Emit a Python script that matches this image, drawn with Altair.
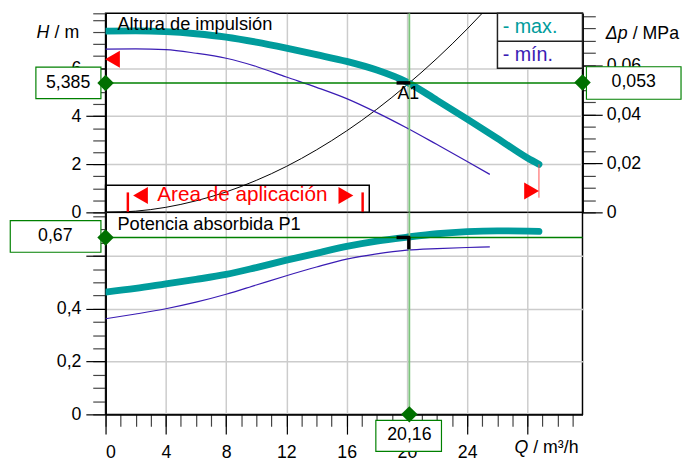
import altair as alt
import pandas as pd

FONT = "Liberation Sans"
TEAL = "#009C9C"
BLUE = "#3A1CB4"
GREEN = "#008000"
LGREEN = "#7CC47C"
RED = "#FF0000"

# ---- axis domains ----
Q_MAX = 31.65
H_TOP = 8.28
DP_TOP = 0.08123
P_TOP = 0.765

# ---- curves ----
q_hmax = [0, 2, 4, 6, 8, 10, 12, 14, 16, 18, 20, 22, 24, 26, 28, 28.76]
h_max = [7.54, 7.55, 7.52, 7.43, 7.29, 7.08, 6.83, 6.56, 6.28, 5.92, 5.42, 4.66, 3.88, 3.08, 2.26, 2.0]
q_hmin = [0, 2, 4, 6, 8, 10, 12, 14, 16, 18, 20, 22, 24, 25.5]
h_min = [6.79, 6.80, 6.77, 6.62, 6.41, 6.07, 5.63, 5.20, 4.73, 4.15, 3.51, 2.82, 2.12, 1.58]
q_sys = [0, 2, 4, 6, 8, 10, 12, 14, 16, 18, 20, 22, 24, 26]
h_sys = [0, 0.05, 0.21, 0.48, 0.85, 1.33, 1.91, 2.60, 3.39, 4.29, 5.30, 6.41, 7.63, 8.96]
q_pmax = [0, 2, 4, 6, 8, 10, 12, 14, 16, 18, 20, 22, 24, 26, 28, 28.76]
p_max = [0.463, 0.477, 0.494, 0.511, 0.530, 0.556, 0.584, 0.610, 0.636, 0.656, 0.671, 0.684, 0.692, 0.695, 0.694, 0.693]
q_pmin = [0, 2, 4, 6, 8, 10, 12, 14, 16, 18, 20, 22, 24, 25.5]
p_min = [0.362, 0.380, 0.400, 0.425, 0.455, 0.490, 0.525, 0.558, 0.588, 0.608, 0.622, 0.628, 0.632, 0.634]

# operating point
Q_OP = 20.16
H_OP = 5.385
DP_OP = 0.053
P_OP = 0.67
op_labels = {"H": "5,385", "DP": "0,053", "P": "0,67", "Q": "20,16"}

# application range markers
area_q = [0, 17.5]
area_h = [0, 1.13]
area_bars_q = [1.48, 17.06]
area_tri = [{"Q": 2.32, "H": 0.70, "s": "triangle-left"}, {"Q": 15.95, "H": 0.70, "s": "triangle-right"}]
limit_tri = [{"Q": 0.46, "H": 6.37, "s": "triangle-left"}, {"Q": 28.27, "H": 0.89, "s": "triangle-right"}]
limit_line = {"Q": 28.76, "H1": 2.0, "H2": 0.61}

# ticks
h_major = [0, 2, 4, 6]
h_minor = [i * 0.5 for i in range(17)] + [8.28]
dp_major = [0, 0.02, 0.04, 0.06]
dp_minor = [round(i * 0.005, 3) for i in range(17)]
p_major = [0, 0.2, 0.4, 0.6]
p_minor = [round(i * 0.05, 2) for i in range(16)]
q_major = [0, 4, 8, 12, 16, 20, 24, 28]
q_minor = list(range(0, 32))

XS = alt.Scale(domain=[0, Q_MAX], nice=False, zero=False)
HS = alt.Scale(domain=[0, H_TOP], nice=False, zero=False)
DS = alt.Scale(domain=[0, DP_TOP], nice=False, zero=False)
PS = alt.Scale(domain=[0, P_TOP], nice=False, zero=False)

W, HT, HB = 484, 202, 205


def X(f, axis=None):
    return alt.X(f"{f}:Q", scale=XS, axis=axis)


def Y(f, scale, axis=None):
    return alt.Y(f"{f}:Q", scale=scale, axis=axis)


def one(**kw):
    return pd.DataFrame({k: [v] for k, v in kw.items()})


op = one(Q=Q_OP, H=H_OP, DP=DP_OP, P=P_OP, Q0=0.0, QR=Q_MAX, H0=0.0, HT=H_TOP, P0=0.0, PT=P_TOP)

LBL = dict(labelFont=FONT, labelFontSize=18, labelColor="black", tickColor="black", tickWidth=1.2,
           domainColor="black", domainWidth=1.5, gridColor="#cccccc", gridWidth=1.5, title=None)
MIN = dict(labels=False, grid=False, tickColor="#444", tickWidth=1.2, domainColor="black",
           domainWidth=1.5, title=None)

# ---------------- axes ----------------
ax_h_major = alt.Axis(orient="left", values=h_major, tickSize=20, labelPadding=5, grid=True, **LBL)
ax_h_minor = alt.Axis(orient="left", values=h_minor, tickSize=13, **MIN)
ax_q_grid = alt.Axis(orient="bottom", values=q_major[1:], grid=True, labels=False, ticks=False,
                     domain=False, gridColor="#cccccc", gridWidth=1.5, title=None)
ax_dp_major = alt.Axis(orient="right", values=dp_major, tickSize=20, labelPadding=4, grid=False,
                       labelExpr="datum.value == 0 ? '0' : replace(format(datum.value, '.2f'), '.', ',')",
                       **LBL)
ax_dp_minor = alt.Axis(orient="right", values=dp_minor, tickSize=13, **MIN)
ax_p_major = alt.Axis(orient="left", values=p_major, tickSize=20, labelPadding=5, grid=True,
                      labelExpr="datum.value > 0.5 ? '' : (datum.value == 0 ? '0' : replace(format(datum.value, '.1f'), '.', ','))",
                      **LBL)
ax_p_minor = alt.Axis(orient="left", values=p_minor, tickSize=13, **MIN)
ax_q_major = alt.Axis(orient="bottom", values=q_major, tickSize=20, labelPadding=10, grid=True,
                      labelExpr="datum.value > 26 ? '' : datum.label", **LBL)
ax_q_minor = alt.Axis(orient="bottom", values=q_minor, tickSize=12, **MIN)

# ---------------- top panel ----------------
df_hmax = pd.DataFrame({"Q": q_hmax, "H": h_max})
df_hmin = pd.DataFrame({"Q": q_hmin, "H": h_min})
df_sys = pd.DataFrame({"Q": q_sys, "H": h_sys})

t_area = alt.Chart(pd.DataFrame({"Q": [area_q[0]], "Q2": [area_q[1]], "H": [area_h[0]], "H2": [area_h[1]]})).mark_rect(
    fillOpacity=0, stroke="black", strokeWidth=1.5).encode(
    x=X("Q"), x2="Q2", y=Y("H", HS), y2="H2")
t_sys = alt.Chart(df_sys).mark_line(color="black", strokeWidth=1, clip=True, interpolate="monotone").encode(
    x=X("Q"), y=Y("H", HS))
t_min = alt.Chart(df_hmin).mark_line(color=BLUE, strokeWidth=1.2, interpolate="monotone").encode(
    x=X("Q"), y=Y("H", HS, ax_h_minor))
t_max = alt.Chart(df_hmax).mark_line(color=TEAL, strokeWidth=7, strokeCap="round", clip=True,
                                     interpolate="monotone").encode(
    x=X("Q", ax_q_grid), y=Y("H", HS, ax_h_major))
t_vline = alt.Chart(op).mark_rule(color=LGREEN, strokeWidth=1.8).encode(
    x=X("Q"), y=Y("H0", HS), y2="HT")
t_hline = alt.Chart(op).mark_rule(color=GREEN, strokeWidth=1.5).encode(
    x=X("Q0"), x2="QR", y=Y("H", HS))
t_redline = alt.Chart(pd.DataFrame([limit_line])).mark_rule(color="#FF5050", strokeWidth=1).encode(
    x=X("Q"), y=Y("H1", HS), y2="H2")
t_redtri = alt.Chart(pd.DataFrame(limit_tri + area_tri)).mark_point(filled=True, color=RED, size=300, opacity=1).encode(
    x=X("Q"), y=Y("H", HS), shape=alt.Shape("s:N", scale=None, legend=None))
t_redbars = alt.Chart(pd.DataFrame({"Q": area_bars_q, "H1": [-0.03, -0.03], "H2": [0.83, 0.83]})).mark_rule(
    color=RED, strokeWidth=2.5).encode(x=X("Q"), y=Y("H1", HS), y2="H2")
t_areatext = alt.Chart(one(Q=9.08, H=0.70, t="Area de aplicación")).mark_text(
    color=RED, font=FONT, fontSize=21, align="center", baseline="middle").encode(
    x=X("Q"), y=Y("H", HS), text="t:N")
t_a1bar = alt.Chart(op).mark_rule(color="black", strokeWidth=3.5, xOffset=-13, x2Offset=1).encode(
    x=X("Q"), x2="Q", y=Y("H", HS))
t_a1 = alt.Chart(one(Q=Q_OP, H=H_OP, t="A1")).mark_text(
    font=FONT, fontSize=18, color="black", dx=-1, dy=11, align="center", baseline="middle").encode(
    x=X("Q"), y=Y("H", HS), text="t:N")
t_boxL = alt.Chart(op).mark_rect(fill="white", stroke=GREEN, strokeWidth=1.2,
                                 xOffset=-70.7, x2Offset=-4.7, yOffset=-16, y2Offset=16).encode(
    x=X("Q0"), x2="Q0", y=Y("H", HS), y2="H")
t_boxLt = alt.Chart(one(Q=0.0, H=H_OP, t=op_labels["H"])).mark_text(
    font=FONT, fontSize=18, color="black", dx=-38, align="center", baseline="middle").encode(
    x=X("Q"), y=Y("H", HS), text="t:N")
t_boxR = alt.Chart(op).mark_rect(fill="white", stroke=GREEN, strokeWidth=1.2,
                                 xOffset=4, x2Offset=100, yOffset=-16, y2Offset=17).encode(
    x=X("QR"), x2="QR", y=Y("DP", DS, ax_dp_minor), y2="DP")
t_boxRt = alt.Chart(one(Q=Q_MAX, DP=DP_OP, t=op_labels["DP"])).mark_text(
    font=FONT, fontSize=18, color="black", dx=52, align="center", baseline="middle").encode(
    x=X("Q"), y=Y("DP", DS), text="t:N")
t_diaL = alt.Chart(op).mark_point(shape="diamond", filled=True, color="#007000", size=280, opacity=1).encode(
    x=X("Q0"), y=Y("H", HS))
t_diaR = alt.Chart(op).mark_point(shape="diamond", filled=True, color="#007000", size=280, opacity=1).encode(
    x=X("QR"), y=Y("DP", DS, ax_dp_major))
t_leg = alt.Chart(one(a=0)).mark_rect(fill="white", stroke="#222", strokeWidth=1.5).encode(
    x=alt.value(397.7), x2=alt.value(W), y=alt.value(0), y2=alt.value(55.7))
t_legdiv = alt.Chart(one(a=0)).mark_rule(color="#222", strokeWidth=1.5).encode(
    x=alt.value(397.7), x2=alt.value(W), y=alt.value(28.3))
t_legmax = alt.Chart(one(t="- max.")).mark_text(font=FONT, fontSize=20, color=TEAL, align="left",
                                               baseline="middle").encode(
    x=alt.value(403), y=alt.value(14), text="t:N")
t_legmin = alt.Chart(one(t="- mín.")).mark_text(font=FONT, fontSize=20, color=BLUE, align="left",
                                               baseline="middle").encode(
    x=alt.value(403), y=alt.value(42), text="t:N")
t_title = alt.Chart(one(t="Altura de impulsión")).mark_text(font=FONT, fontSize=18.5, color="black",
                                                           align="left", baseline="alphabetic").encode(
    x=alt.value(12), y=alt.value(16.7), text="t:N")
t_hlab1 = alt.Chart(one(t="H")).mark_text(font=FONT, fontSize=18, fontStyle="italic", align="left",
                                          baseline="alphabetic", color="black").encode(
    x=alt.value(-70), y=alt.value(25), text="t:N")
t_hlab2 = alt.Chart(one(t="/ m")).mark_text(font=FONT, fontSize=18, align="left",
                                            baseline="alphabetic", color="black").encode(
    x=alt.value(-51.7), y=alt.value(25), text="t:N")
t_dplab1 = alt.Chart(one(t="Δp")).mark_text(font=FONT, fontSize=18, fontStyle="italic", align="left",
                                            baseline="alphabetic", color="black").encode(
    x=alt.value(507.7), y=alt.value(26), text="t:N")
t_dplab2 = alt.Chart(one(t="/ MPa")).mark_text(font=FONT, fontSize=18, align="left",
                                               baseline="alphabetic", color="black").encode(
    x=alt.value(535), y=alt.value(26), text="t:N")

top = alt.layer(
    t_area, t_sys, t_min, t_max, t_vline, t_hline, t_redline, t_redtri, t_redbars, t_areatext,
    t_a1bar, t_a1, t_boxL, t_boxLt, t_boxR, t_boxRt, t_diaL, t_diaR,
    t_leg, t_legdiv, t_legmax, t_legmin, t_title, t_hlab1, t_hlab2, t_dplab1, t_dplab2
).resolve_scale(x="independent", y="independent").resolve_axis(
    x="independent", y="independent").properties(width=W, height=HT)

# ---------------- bottom panel ----------------
df_pmax = pd.DataFrame({"Q": q_pmax, "P": p_max})
df_pmin = pd.DataFrame({"Q": q_pmin, "P": p_min})

b_min = alt.Chart(df_pmin).mark_line(color=BLUE, strokeWidth=1.2, interpolate="monotone").encode(
    x=X("Q", ax_q_minor), y=Y("P", PS, ax_p_minor))
b_max = alt.Chart(df_pmax).mark_line(color=TEAL, strokeWidth=7, strokeCap="round", clip=True,
                                     interpolate="monotone").encode(
    x=X("Q", ax_q_major), y=Y("P", PS, ax_p_major))
b_vline = alt.Chart(op).mark_rule(color=LGREEN, strokeWidth=1.8).encode(
    x=X("Q"), y=Y("P0", PS), y2="PT")
b_hline = alt.Chart(op).mark_rule(color=GREEN, strokeWidth=1.5).encode(
    x=X("Q0"), x2="QR", y=Y("P", PS))
b_brh = alt.Chart(op).mark_rule(color="black", strokeWidth=3.5, xOffset=-13, x2Offset=1).encode(
    x=X("Q"), x2="Q", y=Y("P", PS))
b_brv = alt.Chart(op).mark_rule(color="black", strokeWidth=3.5, xOffset=-0.5, y2Offset=12).encode(
    x=X("Q"), y=Y("P", PS), y2="P")
b_boxL = alt.Chart(op).mark_rect(fill="white", stroke=GREEN, strokeWidth=1.2,
                                 xOffset=-96.7, x2Offset=-4.7, yOffset=-17, y2Offset=15).encode(
    x=X("Q0"), x2="Q0", y=Y("P", PS), y2="P")
b_boxLt = alt.Chart(one(Q=0.0, P=P_OP, t=op_labels["P"])).mark_text(
    font=FONT, fontSize=18, color="black", dx=-51, dy=-1, align="center", baseline="middle").encode(
    x=X("Q"), y=Y("P", PS), text="t:N")
b_boxB = alt.Chart(op).mark_rect(fill="white", stroke=GREEN, strokeWidth=1.2,
                                 xOffset=-34, x2Offset=32.6, yOffset=6, y2Offset=37.6).encode(
    x=X("Q"), x2="Q", y=Y("P0", PS), y2="P0")
b_boxBt = alt.Chart(one(Q=Q_OP, P=0.0, t=op_labels["Q"])).mark_text(
    font=FONT, fontSize=18, color="black", dy=21, align="center", baseline="middle").encode(
    x=X("Q"), y=Y("P", PS), text="t:N")
b_diaL = alt.Chart(op).mark_point(shape="diamond", filled=True, color="#007000", size=280, opacity=1).encode(
    x=X("Q0"), y=Y("P", PS))
b_diaB = alt.Chart(op).mark_point(shape="diamond", filled=True, color="#007000", size=280, opacity=1).encode(
    x=X("Q"), y=Y("P0", PS))
b_title = alt.Chart(one(t="Potencia absorbida P1")).mark_text(font=FONT, fontSize=18.5, color="black",
                                                             align="left", baseline="alphabetic").encode(
    x=alt.value(12), y=alt.value(18), text="t:N")
b_qlab1 = alt.Chart(one(t="Q")).mark_text(font=FONT, fontSize=18, fontStyle="italic", align="left",
                                          baseline="alphabetic", color="black").encode(
    x=alt.value(415), y=alt.value(244), text="t:N")
b_qlab2 = alt.Chart(one(t="/ m³/h")).mark_text(font=FONT, fontSize=18, align="left",
                                               baseline="alphabetic", color="black").encode(
    x=alt.value(434), y=alt.value(244), text="t:N")

bottom = alt.layer(
    b_min, b_max, b_vline, b_hline, b_boxL, b_boxLt, b_boxB, b_boxBt, b_diaL, b_diaB,
    b_brh, b_brv, b_title, b_qlab1, b_qlab2
).resolve_scale(x="independent", y="independent").resolve_axis(
    x="independent", y="independent").properties(width=W, height=HB)

chart = alt.vconcat(top, bottom, spacing=0, bounds="flush").properties(
    padding={"left": 0, "top": 0, "right": 0, "bottom": 0}
).configure_view(stroke="black", strokeWidth=1.5)

chart.save("out.html", embed_options={"renderer": "svg", "actions": False})
